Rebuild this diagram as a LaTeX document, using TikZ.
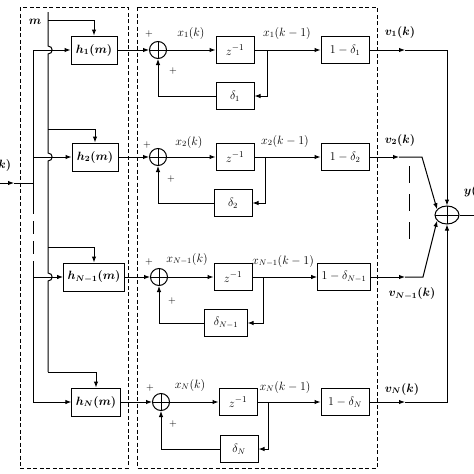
\documentclass[tikz,border=0pt]{standalone}
\usepackage{amsmath,amssymb}
\usepackage{tikz}
\usetikzlibrary{shapes.geometric,arrows.meta}
\tikzstyle{frame} = [dash pattern=on 4pt off 2.5pt, line width=1pt]
\tikzstyle{hbox} = [draw, minimum width=46pt, minimum height=28pt, inner xsep=4pt, font=\fontsize{12}{14}\selectfont\boldmath]
\tikzstyle{zbox} = [draw, minimum width=38pt, minimum height=27pt, font=\fontsize{13}{15}\selectfont]
\tikzstyle{cbox} = [draw, minimum width=48pt, minimum height=27pt, inner xsep=4pt]
\tikzstyle{dbox} = [draw, minimum width=38pt, minimum height=27pt, inner xsep=9pt]
\tikzstyle{adder} = [draw, circle, minimum size=17pt, inner sep=0pt,
  path picture={\draw (path picture bounding box.north) -- (path picture bounding box.south)
    (path picture bounding box.west) -- (path picture bounding box.east);}]
\tikzstyle{outsum} = [draw, ellipse, minimum width=24pt, minimum height=18pt, inner sep=0pt,
  path picture={\draw (path picture bounding box.north) -- (path picture bounding box.south)
    (path picture bounding box.west) -- (path picture bounding box.east);}]
\tikzstyle{sign} = [font=\fontsize{10}{11}\selectfont]
\tikzset{hop/.style={insert path={-- (48,#1-4) .. controls (53.5,#1-4) and (53.5,#1+4) .. (48,#1+4)}}}

\begin{document}
\begin{tikzpicture}[x=1pt, y=-1pt, >={Latex[length=6pt,width=4.5pt]}, line width=1pt, font=\fontsize{12}{14}\selectfont]
			\useasboundingbox (0,0) rectangle (474,474);
			\draw[frame] (20,7) rectangle (128,468);
			\draw[frame] (137,7) rectangle (377,468);
			% filters
			\node[hbox] (h1) at (94,50) {$h_1(m)$};
			\node[hbox] (h2) at (95,157) {$h_2(m)$};
			\node[hbox] (hn1) at (94,277) {$h_{N-1}(m)$};
			\node[hbox] (hn) at (96,402) {$h_N(m)$};
			% input bus
			\coordinate (xin) at (0,183);
			\coordinate (xa) at (14,183);
			\coordinate (bt) at (33,50);
			\coordinate (bm) at (33,201);
			\coordinate (bd) at (33,262);
			\coordinate (bb) at (33,402);
			\node[anchor=east] at (15,165) {$\boldsymbol{x(k)}$};
			\draw[->] (xin) -- (xa);
			\draw (xa) -- (xa -| bt);
			\draw (bt) -- (bm);
			\draw[dash pattern=on 13pt off 7pt] (bm) -- (bd);
			\draw (bd) -- (bb);
			\draw[->] (bt) -- (h1);
			\draw[->] (h2 -| bt) -- (h2);
			\draw[->] (hn1 -| bt) -- (hn1);
			\draw[->] (bb) -- (hn);
			% m line
			\coordinate (mt) at (48,12);
			\coordinate (m1) at (48,20);
			\coordinate (m2) at (48,129);
			\coordinate (m3) at (48,247);
			\coordinate (m4) at (48,372);
			\node at (35,22) {$\boldsymbol{m}$};
			\draw (mt) [hop=50] [hop=157] [hop=277] -- (m4);
			\draw[->] (m1) -| (h1);
			\draw[->] (m2) -| (h2);
			\draw[->] (m3) -| (hn1);
			\draw[->] (m4) -| (hn);
			% branch 1
			\node[adder] (s1) at (158,50) {};
			\node[zbox] (z1) at (235,50) {$z^{-1}$};
			\node[cbox] (c1) at (345,50) {$1-\delta_1$};
			\node[dbox] (d1) at (235,96) {$\delta_1$};
			\coordinate (p1) at (267,50);
			\node[sign] at (149,34) {$+$};
			\node[sign] at (173,71) {$+$};
			\node at (191,33) {$x_1(k)$};
			\node at (287,33) {$x_1(k-1)$};
			\draw[->] (h1) -- (s1);
			\draw[->] (s1) -- (z1);
			\draw[->] (z1) -- (c1);
			\draw[->] (p1) |- (d1);
			\draw[->] (d1) -| (s1);
			% branch 2
			\node[adder] (s2) at (158,157) {};
			\node[zbox] (z2) at (235,157) {$z^{-1}$};
			\node[cbox] (c2) at (345,157) {$1-\delta_2$};
			\node[dbox] (d2) at (233,203) {$\delta_2$};
			\coordinate (p2) at (265,157);
			\node[sign] at (147,145) {$+$};
			\node[sign] at (171,179) {$+$};
			\node at (189,142) {$x_2(k)$};
			\node at (285,141) {$x_2(k-1)$};
			\draw[->] (h2) -- (s2);
			\draw[->] (s2) -- (z2);
			\draw[->] (z2) -- (c2);
			\draw[->] (p2) |- (d2);
			\draw[->] (d2) -| (s2);
			% branch N-1
			\node[adder] (sn1) at (159,277) {};
			\node[zbox] (zn1) at (233,277) {$z^{-1}$};
			\node[cbox] (cn1) at (344,277) {$1-\delta_{N-1}$};
			\node[dbox] (dn1) at (226,323) {$\delta_{N-1}$};
			\coordinate (pn1) at (263,277);
			\node[sign] at (149,262) {$+$};
			\node[sign] at (172,301) {$+$};
			\node at (187,259) {$x_{N-1}(k)$};
			\node at (283,261) {$x_{N-1}(k-1)$};
			\draw[->] (hn1) -- (sn1);
			\draw[->] (sn1) -- (zn1);
			\draw[->] (zn1) -- (cn1);
			\draw[->] (pn1) |- (dn1);
			\draw[->] (dn1) -| (sn1);
			% branch N
			\node[adder] (sn) at (161,402) {};
			\node[zbox] (zn) at (238,402) {$z^{-1}$};
			\node[cbox] (cn) at (345,402) {$1-\delta_N$};
			\node[dbox] (dn) at (239,449) {$\delta_N$};
			\coordinate (pn) at (268,402);
			\node[sign] at (150,388) {$+$};
			\node[sign] at (173,424) {$+$};
			\node at (190,385) {$x_N(k)$};
			\node at (285,387) {$x_N(k-1)$};
			\draw[->] (hn) -- (sn);
			\draw[->] (sn) -- (zn);
			\draw[->] (zn) -- (cn);
			\draw[->] (pn) |- (dn);
			\draw[->] (dn) -| (sn);
			% output sum
			\node[outsum] (out) at (447,215) {};
			\coordinate (a1) at (405,50);
			\coordinate (a2) at (399,157);
			\coordinate (an1) at (405,277);
			\coordinate (an) at (405,402);
			\coordinate (k2) at (422,157);
			\coordinate (kn1) at (423,277);
			\coordinate (yout) at (474,215);
			\node at (400,32) {$\boldsymbol{v_1(k)}$};
			\node at (400,140) {$\boldsymbol{v_2(k)}$};
			\node at (412,294) {$\boldsymbol{v_{N-1}(k)}$};
			\node at (402,389) {$\boldsymbol{v_N(k)}$};
			\node[anchor=west] at (460,191) {$\boldsymbol{y(k)}$};
			\draw[->] (c1) -- (a1);
			\draw[->] (a1) -| (out);
			\draw[->] (c2) -- (a2);
			\draw[->] (a2) -- (k2) -- (out.150);
			\draw[->] (cn1) -- (an1);
			\draw[->] (an1) -- (kn1) -- (out.210);
			\draw[->] (cn) -- (an);
			\draw[->] (an) -| (out);
			\draw[dash pattern=on 17pt off 11pt] (409,166) -- (409,243);
			\draw (out) -- (yout);
		\end{tikzpicture}
\end{document}
